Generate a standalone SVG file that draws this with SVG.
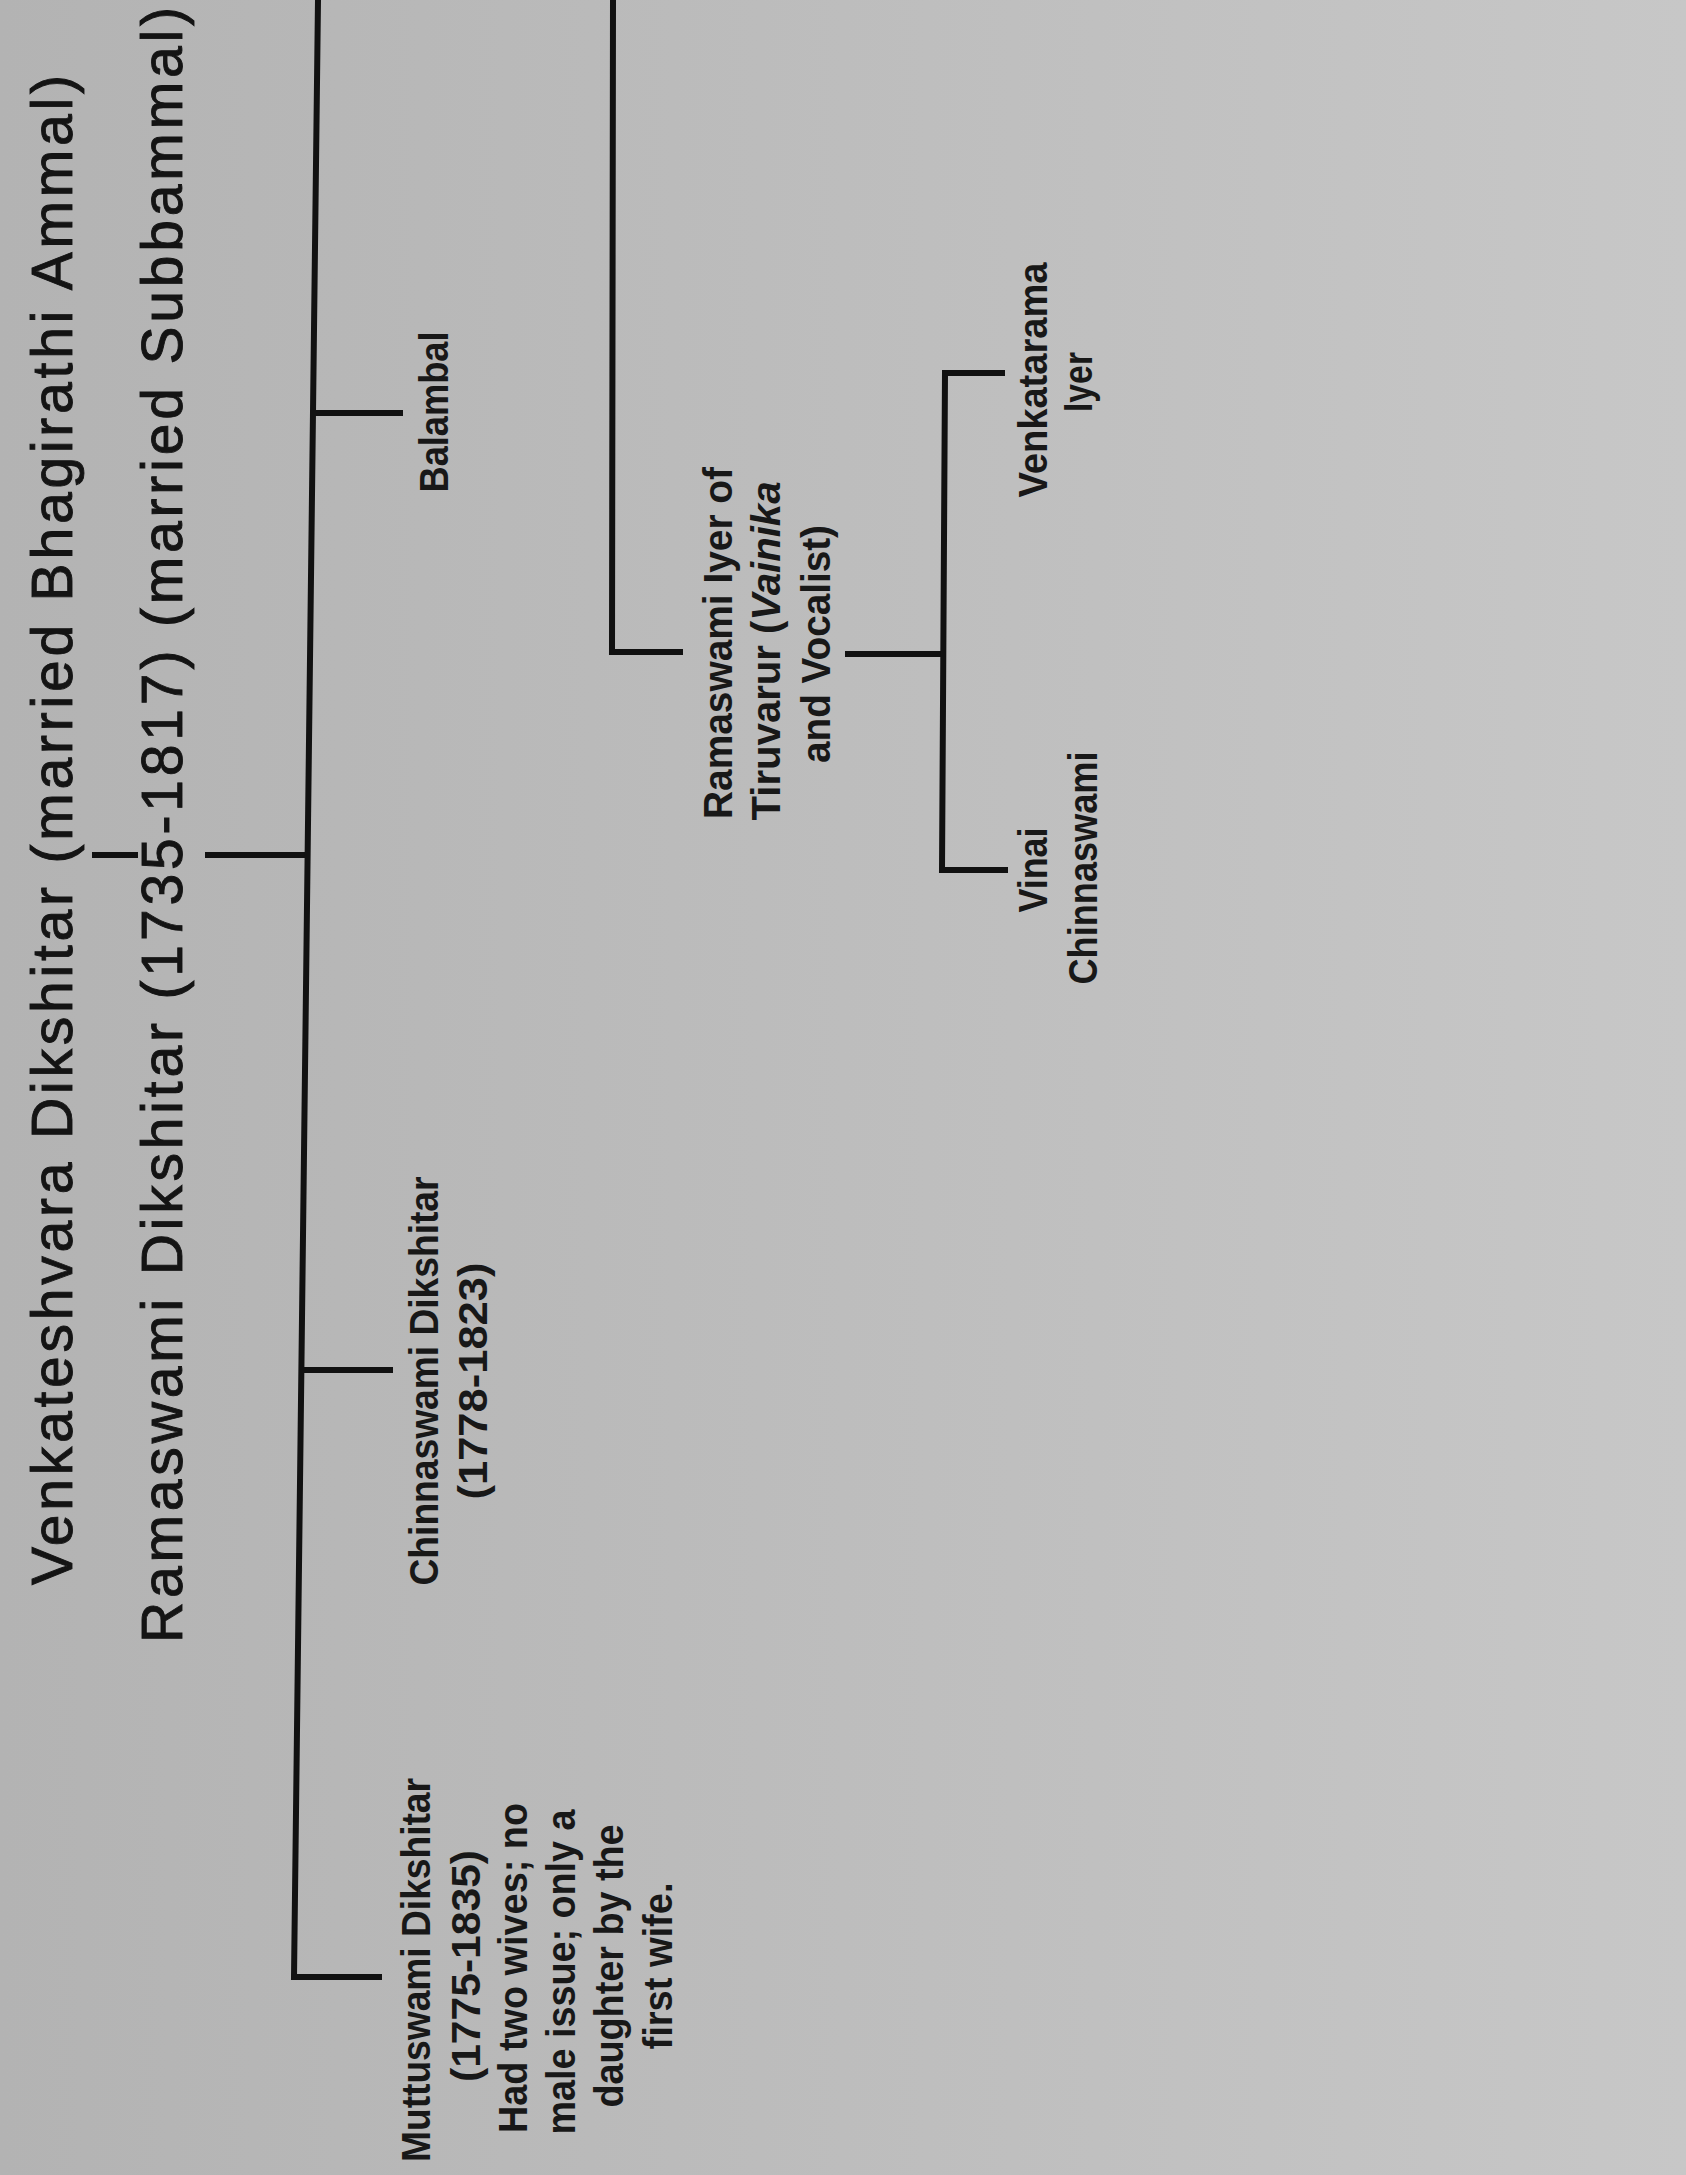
<svg xmlns="http://www.w3.org/2000/svg" width="1686" height="2175" viewBox="0 0 1686 2175">
  <defs>
    <linearGradient id="bg" x1="0" y1="0" x2="1" y2="0">
      <stop offset="0" stop-color="#b3b3b3"/>
      <stop offset="0.5" stop-color="#bdbdbd"/>
      <stop offset="1" stop-color="#c7c7c7"/>
    </linearGradient>
    <style>
      .title { font-family: "Liberation Sans", Arial, sans-serif; font-size: 57px; fill: #141414; stroke: #141414; stroke-width: 0.9px; }
      .lbl { font-family: "Liberation Sans", Arial, sans-serif; font-size: 40px; font-weight: bold; fill: #181818; }
      .conn { fill: none; stroke: #111; stroke-width: 6; stroke-linecap: butt; stroke-linejoin: miter; }
    </style>
  </defs>
  <rect x="0" y="0" width="1686" height="2175" fill="url(#bg)"/>

  <g id="connectors">
    <line class="conn" x1="92" y1="855" x2="138" y2="855" stroke-width="7"/>
    <line class="conn" x1="205" y1="855" x2="310" y2="855"/>
    <path class="conn" d="M318,0 L294,1977 L382,1977"/>
    <line class="conn" x1="313" y1="413" x2="403" y2="413"/>
    <line class="conn" x1="301" y1="1370" x2="393" y2="1370"/>
    <path class="conn" d="M613,0 L612,652 L683,652"/>
    <line class="conn" x1="845" y1="654" x2="943" y2="654"/>
    <path class="conn" d="M1005,373 L945,373 L942,870 L1008,870"/>
  </g>

  <g id="venkateshvara">
    <text class="title" transform="translate(72,1585) rotate(-90)" textLength="1510">Venkateshvara Dikshitar (married Bhagirathi Ammal)</text>
  </g>

  <g id="ramaswami-dikshitar">
    <text class="title" transform="translate(182,1643) rotate(-90)" textLength="1636">Ramaswami Dikshitar (1735-1817) (married Subbammal)</text>
  </g>

  <g id="balambal">
    <text class="lbl" transform="translate(448,412) rotate(-90)" text-anchor="middle" textLength="161" lengthAdjust="spacingAndGlyphs">Balambal</text>
  </g>

  <g id="chinnaswami-dikshitar">
    <text class="lbl" transform="translate(438,1381) rotate(-90)" text-anchor="middle" textLength="409" lengthAdjust="spacingAndGlyphs">Chinnaswami Dikshitar</text>
    <text class="lbl" transform="translate(487,1381) rotate(-90)" text-anchor="middle" textLength="237" lengthAdjust="spacingAndGlyphs">(1778-1823)</text>
  </g>

  <g id="muttuswami-dikshitar">
    <text class="lbl" transform="translate(430,1970) rotate(-90)" text-anchor="middle" textLength="384" lengthAdjust="spacingAndGlyphs">Muttuswami Dikshitar</text>
    <text class="lbl" transform="translate(480,1966) rotate(-90)" text-anchor="middle" textLength="232" lengthAdjust="spacingAndGlyphs">(1775-1835)</text>
    <text class="lbl" transform="translate(527,1968) rotate(-90)" text-anchor="middle" textLength="330" lengthAdjust="spacingAndGlyphs">Had two wives; no</text>
    <text class="lbl" transform="translate(575,1972) rotate(-90)" text-anchor="middle" textLength="325" lengthAdjust="spacingAndGlyphs">male issue; only a</text>
    <text class="lbl" transform="translate(623,1966) rotate(-90)" text-anchor="middle" textLength="283" lengthAdjust="spacingAndGlyphs">daughter by the</text>
    <text class="lbl" transform="translate(672,1966) rotate(-90)" text-anchor="middle" textLength="167" lengthAdjust="spacingAndGlyphs">first wife.</text>
  </g>

  <g id="ramaswami-iyer">
    <text class="lbl" transform="translate(732,643) rotate(-90)" text-anchor="middle" textLength="352" lengthAdjust="spacingAndGlyphs">Ramaswami Iyer of</text>
    <text class="lbl" transform="translate(780,651) rotate(-90)" text-anchor="middle" textLength="339" lengthAdjust="spacingAndGlyphs">Tiruvarur (<tspan font-style="italic">Vainika</tspan></text>
    <text class="lbl" transform="translate(830,644) rotate(-90)" text-anchor="middle" textLength="238" lengthAdjust="spacingAndGlyphs">and Vocalist)</text>
  </g>

  <g id="venkatarama-iyer">
    <text class="lbl" transform="translate(1047,380) rotate(-90)" text-anchor="middle" textLength="235" lengthAdjust="spacingAndGlyphs">Venkatarama</text>
    <text class="lbl" transform="translate(1092,382) rotate(-90)" text-anchor="middle" textLength="60" lengthAdjust="spacingAndGlyphs">Iyer</text>
  </g>

  <g id="vinai-chinnaswami">
    <text class="lbl" transform="translate(1047,870) rotate(-90)" text-anchor="middle" textLength="85" lengthAdjust="spacingAndGlyphs">Vinai</text>
    <text class="lbl" transform="translate(1097,868) rotate(-90)" text-anchor="middle" textLength="233" lengthAdjust="spacingAndGlyphs">Chinnaswami</text>
  </g>
</svg>
